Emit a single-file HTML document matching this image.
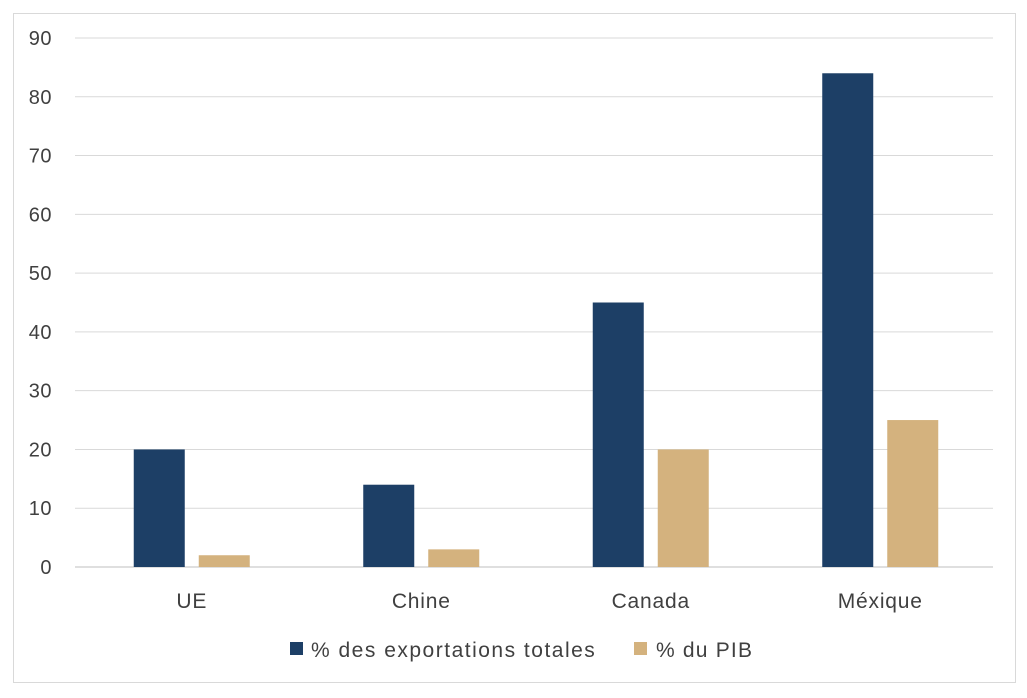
<!DOCTYPE html>
<html><head><meta charset="utf-8"><style>
body{margin:0;background:#fff;font-family:"Liberation Sans",sans-serif}
</style></head><body>
<svg width="1027" height="693" xmlns="http://www.w3.org/2000/svg">
<rect x="13.5" y="13.5" width="1002" height="669" fill="#fff" stroke="#d9d9d9"/>
<g id="grid"></g><g id="bars"></g><g id="labels"></g>
<g>
<rect x="290" y="642" width="13" height="13" fill="#1d3f66"/>
<text x="311" y="657" font-size="21" letter-spacing="1.5" fill="#404040">% des exportations totales</text>
<rect x="634" y="642" width="13" height="13" fill="#d4b27e"/>
<text x="656" y="657" font-size="21" letter-spacing="1.2" fill="#404040">% du PIB</text>
</g>
</svg>
<script>
const categories=["UE","Chine","Canada","Méxique"];
const exportsPct=[20,14,45,84];
const pibPct=[2,3,20,25];
const ticks=[0,10,20,30,40,50,60,70,80,90];
const NS="http://www.w3.org/2000/svg";
const x0=75,x1=993,yZero=567,yTop=38,maxV=90;
const y=v=>yZero-(v/maxV)*(yZero-yTop);
const band=(x1-x0)/categories.length;
const grid=document.getElementById('grid'),bars=document.getElementById('bars'),labels=document.getElementById('labels');
function mk(t,a){const e=document.createElementNS(NS,t);for(const k in a)e.setAttribute(k,a[k]);return e;}
ticks.forEach(t=>{
const l=mk('line',{x1:x0,x2:x1,y1:y(t),y2:y(t),stroke:t===0?'#bfbfbf':'#d9d9d9','stroke-width':1});


grid.appendChild(l);
const tx=mk('text',{x:52,y:y(t)+7,'font-size':20,fill:'#404040','text-anchor':'end','letter-spacing':0.5});
tx.textContent=t;


labels.appendChild(tx);
});
categories.forEach((c,i)=>{
const cx=x0+band*(i+0.5)+2;
const b1=mk('rect',{x:cx-58,y:y(exportsPct[i]),width:51,height:yZero-y(exportsPct[i]),fill:'#1d3f66'});


bars.appendChild(b1);
const b2=mk('rect',{x:cx+7,y:y(pibPct[i]),width:51,height:yZero-y(pibPct[i]),fill:'#d4b27e'});


bars.appendChild(b2);
const tx=mk('text',{x:cx,y:608,'font-size':21,fill:'#404040','text-anchor':'middle','letter-spacing':0.8});
tx.textContent=c;


labels.appendChild(tx);
});
</script>
</body></html>
